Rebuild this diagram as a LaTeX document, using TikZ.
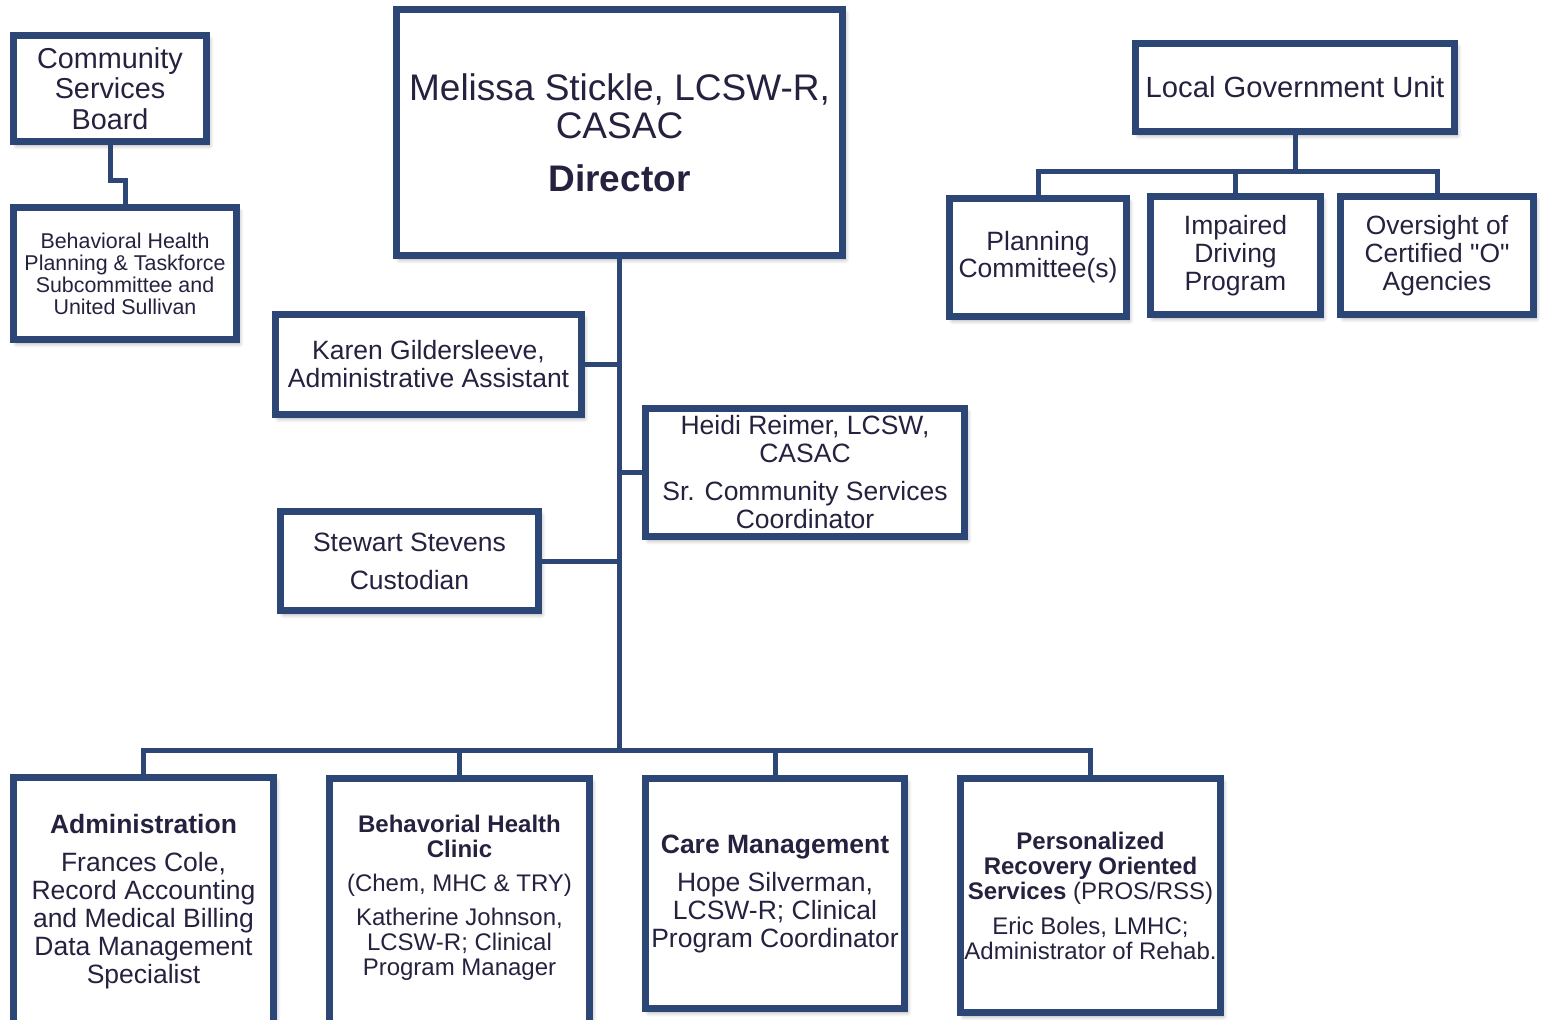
\documentclass[tikz,border=0pt]{standalone}
\usepackage{fontspec}
\setmainfont{Liberation Sans}
\usepackage{xcolor}
\usepackage{tikz}
\usetikzlibrary{shadows.blur}
\definecolor{orgblue}{HTML}{2C4675}
\definecolor{orgink}{HTML}{25223F}
\newcommand{\orgfont}[2]{\fontsize{#1}{#2}\selectfont}
\tikzset{
  softshadow/.style={blur shadow={shadow blur steps=6,shadow xshift=1.5pt,
                     shadow yshift=-2pt,shadow opacity=35}},
  orgbox/.style={draw=orgblue,line width=3.5pt,fill=white,softshadow,
                 align=center,text=orgink,inner sep=0pt},
  linkline/.style={draw=orgblue,line width=2.5pt},
}

\begin{document}
\begin{tikzpicture}[x=0.5pt,y=-0.5pt]
  \useasboundingbox (0,0) rectangle (1541,1019);
  % top row
  \node[orgbox,minimum width=96.5pt,minimum height=53pt,font=\orgfont{14.4}{15.25}] (csb) at (110,88.5)
    {Community\\Services\\Board};
  \node[orgbox,minimum width=111.5pt,minimum height=66pt,font=\orgfont{10.7}{11}] (bhp) at (125,273.5)
    {Behavioral Health\\Planning \& Taskforce\\Subcommittee and\\United Sullivan};
  \node[orgbox,minimum width=223pt,minimum height=123pt,font=\orgfont{18.5}{19}] (dir) at (619.5,132.5)
    {Melissa Stickle, LCSW-R,\\CASAC\\[7.5pt]\textbf{Director}};
  \node[orgbox,minimum width=159.5pt,minimum height=44pt,font=\orgfont{14.6}{15}] (lgu) at (1295,87.5)
    {Local Government Unit};
  \node[orgbox,minimum width=88.5pt,minimum height=59pt,font=\orgfont{13.25}{13.6}] (plan) at (1038,257.5)
    {Planning\\Committee(s)};
  \node[orgbox,minimum width=85pt,minimum height=59pt,font=\orgfont{13.25}{14}] (idp) at (1235.5,255.5)
    {Impaired\\Driving\\Program};
  \node[orgbox,minimum width=96.5pt,minimum height=59pt,font=\orgfont{13.2}{14}] (ovs) at (1437,255.5)
    {Oversight of\\Certified \textquotedbl O\textquotedbl\\Agencies};
  % staff along the trunk
  \node[orgbox,minimum width=153pt,minimum height=50pt,font=\orgfont{13.25}{14}] (karen) at (428.5,364.5)
    {Karen Gildersleeve,\\Administrative Assistant};
  \node[orgbox,minimum width=159.5pt,minimum height=64pt,font=\orgfont{13.25}{14}] (heidi) at (805,472.5)
    {Heidi Reimer, LCSW,\\CASAC\\[5pt]Sr. Community Services\\Coordinator};
  \node[orgbox,minimum width=129pt,minimum height=49.5pt,font=\orgfont{13.25}{14}] (stew) at (409.5,561)
    {Stewart Stevens\\[5pt]Custodian};
  % programs
  \node[orgbox,minimum width=130pt,minimum height=124pt,font=\orgfont{13.25}{14}] (admin) at (143.5,901.5)
    {\textbf{Administration}\\[5pt]Frances Cole,\\Record Accounting\\and Medical Billing\\Data Management\\Specialist};
  \node[orgbox,minimum width=130pt,minimum height=124pt,text depth=7pt,font=\orgfont{12}{12.5}] (bhc) at (459.5,902.5)
    {\textbf{Behavorial Health}\\\textbf{Clinic}\\[4.5pt](Chem, MHC \& TRY)\\[4.5pt]Katherine Johnson,\\LCSW-R; Clinical\\Program Manager};
  \node[orgbox,minimum width=129.5pt,minimum height=115pt,font=\orgfont{13.25}{14}] (care) at (775,893.5)
    {\textbf{Care Management}\\[5pt]Hope Silverman,\\LCSW-R; Clinical\\Program Coordinator};
  \node[orgbox,minimum width=130pt,minimum height=117pt,font=\orgfont{12}{12.5}] (pros) at (1090.5,895.5)
    {\textbf{Personalized}\\\textbf{Recovery Oriented}\\\textbf{Services} (PROS/RSS)\\[5pt]Eric Boles, LMHC;\\Administrator of Rehab.};

  % connectors
  \draw[linkline] (csb.south) -- ++(0,35) -| (bhp.north);
  \coordinate (lguj) at (1295,171);
  \draw[linkline] (lgu.south) -- (lguj);
  \foreach \b in {plan,idp,ovs}
    \draw[linkline] (lguj) -| (\b.north);
  \coordinate (bus) at (619.5,750);
  \draw[linkline] (dir.south) -- (bus);
  \draw[linkline] (karen.east) -- (karen.east -| dir.south);
  \draw[linkline] (heidi.west) -- (heidi.west -| dir.south);
  \draw[linkline] (stew.east) -- (stew.east -| dir.south);
  \foreach \b in {admin,bhc,care,pros}
    \draw[linkline] (bus) -| (\b.north);
\end{tikzpicture}
\end{document}
